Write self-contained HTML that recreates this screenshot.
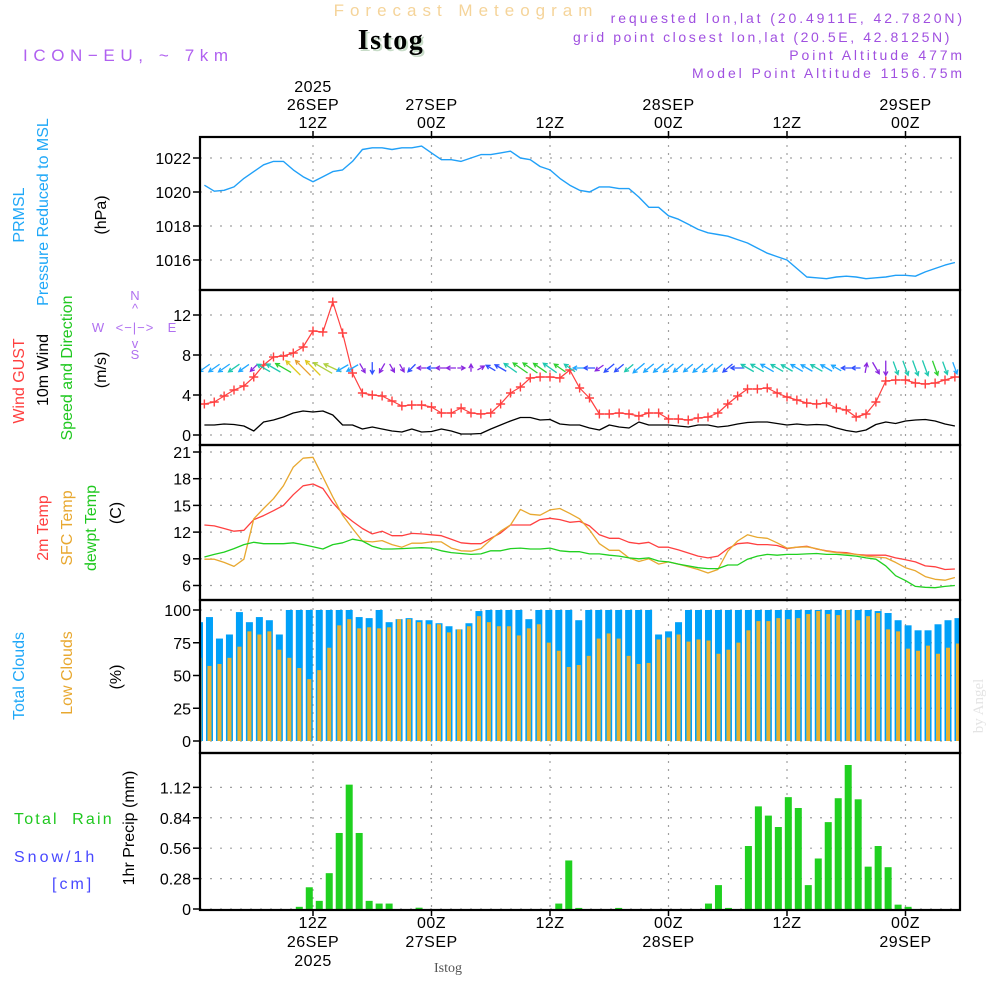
<!DOCTYPE html>
<html><head><meta charset="utf-8">
<style>
html,body{margin:0;padding:0;background:#fff;}
svg{display:block;font-family:"Liberation Sans",sans-serif;}
</style></head>
<body>
<svg id="chart" width="1000" height="1000" viewBox="0 0 1000 1000" xmlns="http://www.w3.org/2000/svg">
<defs>
<clipPath id="clipAll"><rect x="201" y="137" width="758" height="772"/></clipPath>
</defs>
<rect x="0" y="0" width="1000" height="1000" fill="#fff"/>
<!-- headers -->
<text x="466" y="16" text-anchor="middle" font-size="17" letter-spacing="6" fill="#f5d49a">Forecast Meteogram</text>
<text x="393" y="51" text-anchor="middle" font-size="28" font-weight="bold" letter-spacing="1.5" font-family="Liberation Serif, serif" fill="#c8dcc8">Istog</text>
<text x="391" y="49" text-anchor="middle" font-size="28" font-weight="bold" letter-spacing="1.5" font-family="Liberation Serif, serif" fill="#000">Istog</text>
<text x="23" y="61" font-size="17" letter-spacing="5.6" fill="#b060f0">ICON−EU, ~ 7km</text>
<text x="965" y="23" text-anchor="end" font-size="14" letter-spacing="2.9" fill="#a050e0">requested lon,lat (20.4911E, 42.7820N)</text>
<text x="952" y="42" text-anchor="end" font-size="14" letter-spacing="2.6" fill="#a050e0">grid point closest lon,lat (20.5E, 42.8125N)</text>
<text x="965" y="60" text-anchor="end" font-size="14" letter-spacing="2.9" fill="#a050e0">Point Altitude 477m</text>
<text x="965" y="78" text-anchor="end" font-size="14" letter-spacing="2.9" fill="#a050e0">Model Point Altitude 1156.75m</text>

<!-- left labels -->
<g font-size="16">
<text transform="translate(24,215) rotate(-90)" text-anchor="middle" fill="#20a8f8">PRMSL</text>
<text transform="translate(48,212) rotate(-90)" text-anchor="middle" fill="#20a8f8">Pressure Reduced to MSL</text>
<text transform="translate(106,215) rotate(-90)" text-anchor="middle" fill="#000">(hPa)</text>
<text transform="translate(24,381) rotate(-90)" text-anchor="middle" fill="#ff4040">Wind GUST</text>
<text transform="translate(48,370) rotate(-90)" text-anchor="middle" fill="#000">10m Wind</text>
<text transform="translate(72,368) rotate(-90)" text-anchor="middle" fill="#20c820">Speed and Direction</text>
<text transform="translate(106,370) rotate(-90)" text-anchor="middle" fill="#000">(m/s)</text>
<text transform="translate(48,528) rotate(-90)" text-anchor="middle" fill="#ff4040">2m Temp</text>
<text transform="translate(72,528) rotate(-90)" text-anchor="middle" fill="#e8a830">SFC Temp</text>
<text transform="translate(96,528) rotate(-90)" text-anchor="middle" fill="#20c820">dewpt Temp</text>
<text transform="translate(121,513) rotate(-90)" text-anchor="middle" fill="#000">(C)</text>
<text transform="translate(24,676) rotate(-90)" text-anchor="middle" fill="#20a8f8">Total Clouds</text>
<text transform="translate(72,673) rotate(-90)" text-anchor="middle" fill="#e8a830">Low Clouds</text>
<text transform="translate(121,677) rotate(-90)" text-anchor="middle" fill="#000">(%)</text>
<text x="14" y="824" fill="#20c820" letter-spacing="2.2" xml:space="preserve">Total  Rain</text>
<text x="14" y="862" fill="#4848ff" letter-spacing="3">Snow/1h</text>
<text x="52" y="889" fill="#4848ff" letter-spacing="3">[cm]</text>
<text transform="translate(134,828) rotate(-90)" text-anchor="middle" fill="#000">1hr Precip (mm)</text>
</g>
<!-- compass -->
<g font-size="13" fill="#b070f0" text-anchor="middle">
<text x="135" y="300">N</text>
<text x="135" y="313">^</text>
<text x="98" y="332">W</text>
<text x="135" y="332" letter-spacing="1">&lt;−|−&gt;</text>
<text x="172" y="332">E</text>
<text x="135" y="348">v</text>
<text x="135" y="359">S</text>
</g>
<text transform="translate(983,706) rotate(-90)" text-anchor="middle" font-size="15" font-family="Liberation Serif, serif" fill="#e4e4e4">by Angel</text>
<text x="448" y="972" text-anchor="middle" font-size="14" font-family="Liberation Serif, serif" fill="#555">Istog</text>

<g id="grid"></g>
<g id="marks" clip-path="url(#clipAll)"></g>
<g id="frames"></g>
<g id="axes" font-size="16"></g>
</svg>
<script>
// ---------- data ----------
const pressure = [1020.4,1020.05,1020.1,1020.3,1020.8,1021.2,1021.6,1021.8,1021.8,1021.3,1020.9,1020.6,1020.9,1021.2,1021.3,1021.8,1022.5,1022.6,1022.6,1022.5,1022.6,1022.6,1022.7,1022.3,1021.9,1021.9,1021.8,1022.0,1022.2,1022.2,1022.3,1022.4,1022.0,1021.9,1021.5,1021.3,1020.8,1020.4,1020.1,1020.0,1020.3,1020.3,1020.2,1020.2,1019.7,1019.1,1019.1,1018.6,1018.4,1018.1,1017.8,1017.6,1017.5,1017.4,1017.2,1017.0,1016.7,1016.4,1016.2,1016.0,1015.5,1015.0,1014.95,1014.9,1015.0,1015.05,1015.0,1014.9,1014.95,1015.0,1015.1,1015.1,1015.05,1015.3,1015.5,1015.7,1015.85];
const gust = [3.1,3.3,3.9,4.5,4.9,5.8,7.0,7.8,7.9,8.2,8.8,10.4,10.3,13.3,10.2,6.2,4.2,4.0,3.9,3.4,2.9,3.0,3.0,2.8,2.2,2.2,2.7,2.2,2.1,2.2,3.1,4.2,4.8,5.7,5.8,5.8,5.7,6.5,4.7,3.7,2.1,2.1,2.2,2.1,1.9,2.2,2.2,1.6,1.6,1.5,1.7,1.8,2.2,3.1,3.9,4.6,4.6,4.7,4.2,3.8,3.5,3.2,3.1,3.2,2.7,2.5,1.8,2.1,3.3,5.4,5.5,5.5,5.2,5.1,5.2,5.5,5.8];
const wind10 = [1.0,1.0,1.1,1.05,0.9,0.4,1.3,1.5,1.8,2.2,2.4,2.3,2.4,2.0,1.0,1.0,0.6,0.8,0.6,0.4,0.3,0.6,0.3,0.35,0.6,0.4,0.1,0.1,0.15,0.6,1.0,1.4,1.75,1.75,1.5,1.55,1.1,1.0,1.0,0.7,0.5,1.0,0.8,0.7,1.3,1.0,1.0,1.0,0.9,0.8,1.0,1.0,0.8,0.9,1.1,1.25,1.3,1.3,1.15,1.0,1.1,1.0,1.05,1.0,0.7,0.45,0.3,0.5,1.05,1.3,1.15,1.4,1.5,1.55,1.4,1.1,0.9];
const windAngle = [215,215,215,215,215,225,150,150,150,135,135,135,150,155,210,210,300,270,240,300,300,225,180,180,180,180,0,90,30,150,150,145,145,145,145,145,145,145,180,180,215,220,220,220,220,220,220,220,220,220,220,220,220,220,180,150,150,150,150,150,150,150,150,150,150,180,180,80,300,270,290,290,290,290,290,290,290];
const windColor = ["c","c","c","t","c","p","t","t","g","y","o","y","l","l","c","c","p","b","p","p","p","b","p","b","p","p","p","p","p","b","b","t","g","g","g","t","g","t","c","b","p","b","b","t","c","c","c","c","c","c","c","c","c","b","b","t","t","c","t","t","c","c","t","c","c","b","b","p","p","p","t","t","t","t","g","t","c"];
const temp2m = [12.8,12.7,12.4,12.1,12.2,13.4,13.85,14.4,15.0,16.2,17.2,17.4,16.9,15.3,14.1,13.2,12.4,11.8,12.1,11.6,11.6,11.85,11.8,11.7,11.6,11.2,10.8,10.7,10.7,11.3,11.9,12.8,12.8,12.8,13.4,13.55,13.4,13.1,13.2,12.7,11.7,11.3,11.3,10.85,10.7,10.85,10.3,10.3,10.0,9.65,9.3,9.1,9.3,10.15,10.7,10.8,10.6,10.6,10.5,10.15,10.3,10.4,10.1,9.9,9.75,9.7,9.5,9.4,9.4,9.4,9.1,8.9,8.65,8.2,8.1,7.8,7.85];
const sfcTemp = [8.95,8.95,8.6,8.15,8.95,13.5,14.65,15.75,17.2,19.3,20.3,20.4,18.2,15.95,13.9,12.4,11.0,10.9,11.05,10.6,10.3,10.75,10.75,10.9,10.9,10.2,9.9,9.85,10.15,11.15,12.1,12.8,14.55,14.0,13.9,14.5,14.65,14.1,13.5,12.25,10.7,9.95,9.95,9.1,8.7,9.0,8.4,8.65,8.4,8.1,7.8,7.4,7.8,9.85,11.0,11.7,11.4,11.3,10.8,10.2,10.3,10.35,10.15,9.85,9.7,9.6,9.5,9.3,9.2,9.1,8.6,8.0,7.65,7.0,6.7,6.6,6.9];
const dewpt = [9.2,9.5,9.75,10.15,10.6,10.85,10.7,10.7,10.7,10.8,10.6,10.35,10.1,10.6,10.8,11.2,11.0,10.4,10.1,10.1,10.15,10.2,10.25,10.2,9.9,9.7,9.6,9.5,9.55,9.9,9.9,10.15,10.2,10.1,10.1,10.2,9.9,9.8,9.8,9.55,9.55,9.4,9.3,9.1,9.0,9.1,8.75,8.65,8.4,8.2,8.0,7.9,7.9,8.3,8.3,8.95,9.3,9.5,9.4,9.5,9.5,9.55,9.6,9.5,9.5,9.4,9.3,9.1,8.95,8.2,7.1,6.55,5.9,5.8,5.75,5.9,6.0];
const totalClouds = [90.7,94.6,78.2,81.3,98.4,90.7,94.6,92.2,81.3,100,100,100,100,100,100,100,94.6,93.8,100,90.7,93,93.8,92.2,92.2,89.9,87.6,85.2,89.9,99.2,100,100,100,100,93,100,100,100,100,92.2,100,100,100,100,100,100,100,81.3,83.7,90.7,100,100,100,100,100,100,100,100,100,100,100,100,100,100,100,100,100,100,100,99.2,97.7,92.2,88.3,84.5,84.5,89.1,92.2,93.8];
const lowClouds = [63.5,57.3,58.8,63.5,72,83.7,81.3,83.7,69.7,63.5,55.7,47.2,54.1,71.2,88.3,93,86,86.8,86,86.8,93,93,90.7,89.1,89.1,82.9,85.2,87.6,95.3,90.7,87.6,87.6,80.6,86,89.1,75.1,68.9,56.5,58,65,78.2,82.1,78.2,65,58.8,59.6,77.5,79,81.3,75.9,77.5,76.7,66.6,69.7,75.1,84.5,91.5,91.5,93.8,93,93.8,96.9,99.2,96.9,96.1,100,92.2,95.3,97.7,85.2,83.7,70.5,68.9,72.8,66.6,71.2,74.4];
const precip = [0,0,0,0,0,0,0,0,0,0,0.02,0.2,0.075,0.33,0.70,1.145,0.70,0.075,0.05,0.05,0,0,0.012,0,0,0,0,0,0,0,0,0,0,0,0,0,0.05,0.447,0.01,0,0,0,0.01,0,0,0,0,0,0,0,0,0.05,0.22,0.01,0,0.58,0.945,0.86,0.755,1.03,0.93,0.22,0.465,0.80,1.02,1.326,1.01,0.39,0.58,0.385,0.04,0.02,0,0,0,0,0];
const timeTicks = [11,23,35,47,59,71];
const topTickLabels = [["2025","26SEP","12Z"],["27SEP","00Z"],["12Z"],["28SEP","00Z"],["12Z"],["29SEP","00Z"]];
const bottomTickLabels = [["12Z","26SEP","2025"],["00Z","27SEP"],["12Z"],["00Z","28SEP"],["12Z"],["00Z","29SEP"]];
const pTicks = [1016,1018,1020,1022];
const wTicks = [0,4,8,12];
const tTicks = [6,9,12,15,18,21];
const cTicks = [0,25,50,75,100];
const rTicks = [0,0.28,0.56,0.84,1.12];
const rTickLabels = ["0","0.28","0.56","0.84","1.12"];

// ---------- scales ----------
const X0=200, X1=960;
const xT = h => 313 + (h-11)*9.875;
const xB = k => 199.5 + k*9.98;
const yP = p => 158 + (1022-p)*17;
const yW = v => 435 - v*10;
const yT = t => 452 + (21-t)*8.9;
const yC = c => 741 - c*1.31;
const yR = r => 909 - r*108.6;
const panels = [[137,290,yP,pTicks,null],[290,445,yW,wTicks,null],[445,600,yT,tTicks,null],[600,753,yC,cTicks,null],[753,910,yR,rTicks,rTickLabels]];
const colorMap = {c:"#20a8ff",t:"#20c8b0",g:"#30d030",y:"#e0c820",o:"#e8a030",l:"#b0d040",b:"#3050ff",p:"#8a28e0"};

const NS="http://www.w3.org/2000/svg";
function mk(tag, attrs, parent){const e=document.createElementNS(NS,tag);for(const k in attrs)e.setAttribute(k,attrs[k]);parent.appendChild(e);return e;}
const grid=document.getElementById('grid'), marks=document.getElementById('marks'), frames=document.getElementById('frames'), axes=document.getElementById('axes');

panels.forEach((pn,pi)=>{
  const [top,bot,ys,ticks,labels]=pn;
  ticks.forEach((t,i)=>{
    const y=ys(t);
    const g=mk('line',{x1:X0,x2:X1,y1:y,y2:y,stroke:'#a0a0a0','stroke-width':1.2,'stroke-dasharray':'2,8'},grid);
    
    
    const tk=mk('line',{x1:X0-7,x2:X0,y1:y,y2:y,stroke:'#000','stroke-width':1.5},axes);
    
    
    const tx=mk('text',{x:X0-9,y:y+6,'text-anchor':'end',fill:'#000'},axes);
    tx.textContent = labels?labels[i]:String(t);
    
    
  });
  timeTicks.forEach(h=>{
    const x=xT(h);
    const g=mk('line',{x1:x,x2:x,y1:top,y2:bot,stroke:'#a0a0a0','stroke-width':1.2,'stroke-dasharray':'2,6'},grid);
    
    
  });
  const r=mk('rect',{x:X0,y:top,width:X1-X0,height:bot-top,fill:'none',stroke:'#000','stroke-width':2.2},frames);
  
  
});
timeTicks.forEach((h,i)=>{
  const x=xT(h);
  const t1=mk('line',{x1:x,x2:x,y1:131,y2:137,stroke:'#000','stroke-width':1.5},axes);
  
  
  const t2=mk('line',{x1:x,x2:x,y1:910,y2:916,stroke:'#000','stroke-width':1.5},axes);
  
  
  const top=topTickLabels[i];
  top.forEach((s,j)=>{
    const tx=mk('text',{x:x,y:128-(top.length-1-j)*18,'text-anchor':'middle',fill:'#000','letter-spacing':'0.5'},axes);
    tx.textContent=s;
    
    
  });
  bottomTickLabels[i].forEach((s,j)=>{
    const tx=mk('text',{x:x,y:928+j*19,'text-anchor':'middle',fill:'#000','letter-spacing':'0.5'},axes);
    tx.textContent=s;
    
    
  });
});

function line(arr, xs, ys, color, name, w){
  const d=arr.map((v,i)=>(i?'L':'M')+xs(i).toFixed(1)+','+ys(v).toFixed(1)).join('');
  const p=mk('path',{d:d,fill:'none',stroke:color,'stroke-width':w||1.3,'stroke-linejoin':'round'},marks);
  
  
}
totalClouds.forEach((c,k)=>{
  const x=xB(k);
  const b=mk('rect',{x:x-3.5,y:yC(c),width:7,height:yC(0)-yC(c),fill:'#00a0f8'},marks);
  
  
});
lowClouds.forEach((c,k)=>{
  const x=xB(k);
  const b=mk('rect',{x:x-2,y:yC(c),width:4,height:yC(0)-yC(c),fill:'#e8b030'},marks);
  
  
});
precip.forEach((r,k)=>{
  if(r<=0) return;
  const x=xB(k);
  const b=mk('rect',{x:x-3.5,y:yR(r),width:7,height:yR(0)-yR(r),fill:'#20d020'},marks);
  
  
});
line(pressure,xT,yP,'#20a0f8','pressure-line',1.4);
line(wind10,xT,yW,'#000','wind-10m-line',1.3);
line(gust,xT,yW,'#ff4040','gust-line',1.2);
gust.forEach((v,i)=>{
  const x=xT(i), y=yW(v);
  const m=mk('path',{d:`M${x-4.5},${y}h9M${x},${y-4.5}v9`,stroke:'#ff4040','stroke-width':1.4},marks);
  
  
});
windAngle.forEach((a,i)=>{
  const x=xT(i), y=368;
  const L=7+wind10[i]*6;
  const r=a*Math.PI/180, dx=Math.cos(r)*L, dy=-Math.sin(r)*L;
  const x1=x-dx/2,y1=y-dy/2,x2=x+dx/2,y2=y+dy/2;
  const hl=4.5;
  const h1=r+Math.PI-0.5, h2=r+Math.PI+0.5;
  const d=`M${x1},${y1}L${x2},${y2}M${x2+Math.cos(h1)*hl},${y2-Math.sin(h1)*hl}L${x2},${y2}L${x2+Math.cos(h2)*hl},${y2-Math.sin(h2)*hl}`;
  const p=mk('path',{d:d,fill:'none',stroke:colorMap[windColor[i]],'stroke-width':1.3},marks);
  
  
});
line(temp2m,xT,yT,'#ff4040','temp-2m-line',1.3);
line(sfcTemp,xT,yT,'#e8a830','sfc-temp-line',1.3);
line(dewpt,xT,yT,'#20d020','dewpt-line',1.3);
</script>
</body></html>
